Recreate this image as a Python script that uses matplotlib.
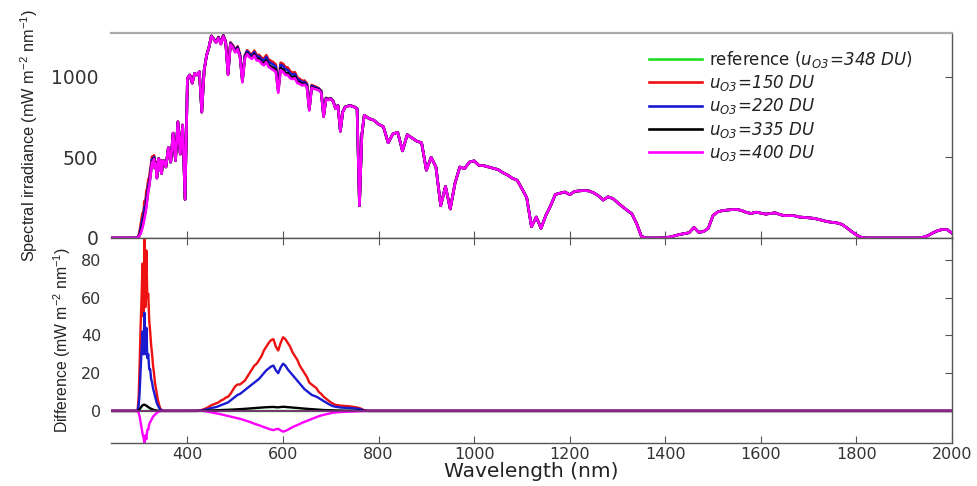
import numpy as np
import matplotlib
matplotlib.use("Agg")
import matplotlib.pyplot as plt

# ---------------- data ----------------
# wavelength sampling grid (nm)
wl = np.concatenate([[240, 280], np.arange(290, 351, 2), np.arange(355, 416, 5),
                     np.arange(420, 781, 5), np.arange(790, 2001, 10)]).astype(float)

# spectral irradiance for u_O3 = 400 DU (mW m-2 nm-1)
irr400_start = [0, 0]
irr400_uv = [0, 0, 1, 3, 8, 15, 28, 45, 65, 90, 120, 150, 190, 240, 290, 320, 370, 420,
             470, 440, 490, 430, 460, 370, 450, 490, 420, 480, 400, 470, 480]
irr400_nuv = [440, 560, 470, 650, 480, 720, 520, 700, 240, 990, 1010, 960, 1020]
irr400_vis = [1010, 1030, 780, 1040, 1130, 1180, 1250, 1230, 1210, 1240,
              1200, 1250, 1210, 1010, 1200, 1180, 1150, 1170, 1120, 965,
              1110, 1140, 1120, 1110, 1130, 1100, 1100, 1080, 1070, 1090,
              1060, 1050, 1040, 1030, 900, 1040, 1030, 1010, 1010, 990,
              985, 990, 960, 955, 945, 950, 935, 790, 930, 925,
              920, 915, 900, 750, 860, 855, 860, 845, 800, 820,
              660, 780, 810, 815, 820, 815, 810, 800, 200, 640,
              760, 750, 740]
irr400_nir = [730, 705, 690, 590, 645, 655, 540, 640, 620, 600,
              590, 420, 500, 440, 200, 320, 180, 340, 440, 430,
              470, 478, 450, 448, 440, 432, 424, 405, 390, 370,
              358, 306, 250, 70, 130, 60, 140, 200, 270, 278,
              285, 268, 288, 292, 294, 292, 280, 262, 235, 255,
              245, 220, 195, 172, 150, 90, 10, 0, 0, 0,
              0, 2, 6, 14, 22, 27, 33, 66, 35, 40,
              60, 140, 162, 170, 173, 176, 177, 170, 158, 152,
              160, 154, 148, 152, 156, 145, 138, 139, 138, 130,
              128, 125, 122, 116, 108, 101, 97, 93, 84, 63,
              40, 19, 4, 0, 0, 0, 0, 0, 0, 0,
              0, 0, 0, 0, 0, 5, 15, 32, 45, 53,
              52, 30]
irr_400 = np.array(irr400_start + irr400_uv + irr400_nuv + irr400_vis + irr400_nir, float)

# differences to the reference (348 DU): UV band (290-350 nm, 2 nm) and visible band (420-780 nm, 5 nm)
wl_uv = np.arange(290, 351, 2).astype(float)
wl_vis = np.arange(420, 781, 5).astype(float)

d150_uv = [0, 0, 0, 1, 8, 25, 45, 60, 78, 50, 92, 55, 85, 60, 62, 48, 42, 35, 30, 24, 20, 15,
           12, 9, 6, 4, 2, 1, 0.5, 0, 0]
d220_uv = [0, 0, 0, 0.5, 3, 10, 22, 32, 42, 30, 52, 30, 44, 28, 30, 22, 22, 17, 15, 12, 10, 8,
           6, 4, 3, 2, 1, 0.5, 0.2, 0, 0]
d335_uv = [0, 0, 0, 0, 0.3, 1, 1.8, 2.5, 3, 3.2, 3.3, 3, 2.8, 2.4, 2, 1.7, 1.4, 1.1, 0.9, 0.7,
           0.5, 0.4, 0.3, 0.2, 0.1, 0, 0, 0, 0, 0, 0]
d400_uv = [0, 0, 0, -0.3, -1, -3, -6, -9, -12, -14, -17, -13, -15, -10, -10, -7, -6, -5, -4, -3,
           -2.5, -2, -1.5, -1, -0.6, -0.4, -0.2, -0.1, 0, 0, 0]

d150_vis = [0, 0.2, 0.5, 1, 1.5, 2.2, 3, 3.5, 4, 4.5, 5.5, 6, 7, 7.5, 9, 11, 13, 14, 14, 15,
            16, 18, 20, 22, 24, 25, 27, 29, 32, 34, 36, 37.5, 38, 34, 32, 36, 39, 38, 36, 34,
            31, 29, 27, 24, 22, 20, 18, 15, 14, 13, 12, 10, 9, 7.5, 6.5, 5.5, 4.5, 3.8, 3.2, 3,
            2.8, 2.7, 2.6, 2.5, 2.4, 2.2, 2, 1.8, 1.5, 1, 0.3, 0.1, 0]
d220_vis = [0, 0.1, 0.3, 0.5, 0.8, 1.1, 1.5, 1.8, 2, 2.5, 3, 3.5, 4, 4.5, 5.5, 6.5, 7.5, 8.5, 9, 10,
            11, 12, 13, 14, 15, 16, 17, 18.5, 20, 21.5, 22.5, 23.5, 24, 21.5, 20, 23, 25, 24, 22, 20.5,
            19, 17.5, 16, 14.5, 13, 11.5, 10.5, 9.5, 8.5, 8, 7.5, 6.8, 6, 5.2, 4.5, 3.7, 3, 2.5, 2.2, 2,
            1.8, 1.7, 1.6, 1.55, 1.5, 1.4, 1.3, 1.2, 1.0, 0.6, 0.2, 0.1, 0]
d335_vis = [0, 0, 0, 0.05, 0.1, 0.15, 0.2, 0.25, 0.3, 0.35, 0.4, 0.45, 0.5, 0.55, 0.6, 0.7, 0.8, 0.85, 0.9, 1.0,
            1.1, 1.2, 1.3, 1.4, 1.5, 1.6, 1.7, 1.8, 1.9, 1.95, 2.0, 2.05, 2.1, 1.95, 1.9, 2.05, 2.2, 2.1, 2.0, 1.9,
            1.8, 1.7, 1.6, 1.45, 1.3, 1.2, 1.1, 1.0, 0.9, 0.8, 0.7, 0.6, 0.5, 0.45, 0.4, 0.35, 0.3, 0.25, 0.2, 0.2,
            0.2, 0.15, 0.1, 0.1, 0.1, 0.1, 0.1, 0.1, 0.1, 0.05, 0, 0, 0]
d400_vis = [0, 0, 0, -0.1, -0.3, -0.5, -0.8, -1, -1.3, -1.5, -1.8, -2.1, -2.4, -2.7, -3, -3.3, -3.6, -3.9, -4.2, -4.6,
            -5, -5.4, -5.8, -6.3, -6.8, -7.2, -7.6, -8.1, -8.6, -9, -9.5, -9.9, -10.2, -9.7, -9.5, -10.3, -11, -10.6, -10, -9.3,
            -8.6, -8, -7.5, -6.9, -6.3, -5.8, -5.3, -4.8, -4.3, -3.8, -3.3, -2.8, -2.4, -2.1, -1.8, -1.5, -1.2, -1, -0.8, -0.7,
            -0.6, -0.55, -0.5, -0.45, -0.4, -0.35, -0.3, -0.25, -0.2, -0.15, -0.1, -0.05, 0]

ozone = [348, 150, 220, 335, 400]
colors = ["#22dd22", "#ee1111", "#1a1ad0", "#000000", "#ff00ff"]
x_ticks = [400, 600, 800, 1000, 1200, 1400, 1600, 1800, 2000]
y_ticks_top = [0, 500, 1000]
y_ticks_bottom = [0, 20, 40, 60, 80]

# ---------------- derived series ----------------
i_uv = np.searchsorted(wl, wl_uv)
i_vis = np.searchsorted(wl, wl_vis)


def on_grid(d_uv, d_vis):
    out = np.zeros_like(wl)
    out[i_uv] = d_uv
    out[i_vis] = d_vis
    return out


diffs = [np.zeros_like(wl),
         on_grid(d150_uv, d150_vis),
         on_grid(d220_uv, d220_vis),
         on_grid(d335_uv, d335_vis),
         on_grid(d400_uv, d400_vis)]
irr_ref = irr_400 - diffs[4]
spectra = [irr_ref + d for d in diffs]

# ---------------- style ----------------
plt.rcParams["font.family"] = ["DejaVu Sans"]
plt.rcParams["mathtext.fontset"] = "custom"
plt.rcParams["mathtext.rm"] = "DejaVu Sans:italic"
plt.rcParams["mathtext.it"] = "DejaVu Sans:italic"
plt.rcParams["mathtext.sf"] = "Liberation Sans"

fig = plt.figure(figsize=(9.77, 4.86), dpi=100)
L, R = 0.1136, 0.9744
ax1 = fig.add_axes([L, 0.5103, R - L, 0.932 - 0.5103])
ax2 = fig.add_axes([L, 0.0885, R - L, 0.5103 - 0.0885], sharex=ax1)

for k in range(5):
    if k == 0:
        lab = r"reference ($u_{O3}\!=\!348\ DU$)"
    else:
        lab = r"$u_{O3}\!=\!%d\ DU$" % ozone[k]
    ax1.plot(wl, spectra[k], color=colors[k], lw=1.9, label=lab)
    ax2.plot(wl, diffs[k], color=colors[k], lw=1.7)
ax2.axhline(0, color="#7a2a7a", lw=1.3, zorder=2.6)

ax1.set_xlim(240, 2000)
ax1.set_ylim(0, 1270)
ax1.set_yticks(y_ticks_top)
ax2.set_ylim(-17, 91.6)
ax2.set_yticks(y_ticks_bottom)
ax2.set_xticks(x_ticks)

spine_col = "#555555"
for ax in (ax1, ax2):
    ax.spines["left"].set_visible(False)
    for s in ("right", "bottom", "top"):
        ax.spines[s].set_color(spine_col)
        ax.spines[s].set_linewidth(1.0)
    ax.tick_params(axis="both", direction="in", length=5, width=0.8, color=spine_col,
                   labelcolor="#333333")
    ax.tick_params(axis="y", left=False, right=True, labelleft=True)
    ax.tick_params(axis="x", top=True, bottom=True)
ax1.spines["top"].set_color("#aaaaaa")
ax1.spines["top"].set_linewidth(1.6)
ax1.tick_params(axis="x", top=False, labelbottom=False)
ax1.tick_params(axis="y", labelsize=13.5, pad=9)
ax2.tick_params(axis="y", labelsize=11.5, pad=7)
ax2.tick_params(axis="x", labelsize=11.5, pad=3)

ax1.set_ylabel(r"Spectral irradiance (mW m$^{\mathsf{-2}}$ nm$^{\mathsf{-1}}$)",
               family="Liberation Sans", fontsize=11.7, color="#222222")
ax2.set_ylabel(r"Difference (mW m$^{\mathsf{-2}}$ nm$^{\mathsf{-1}}$)",
               family="Liberation Sans", fontsize=11.3, color="#222222")
ax2.set_xlabel("Wavelength (nm)", fontsize=14.5, color="#222222", labelpad=0)
ax1.yaxis.set_label_coords(-0.085, 0.5)
ax2.yaxis.set_label_coords(-0.045, 0.5)

leg = ax1.legend(loc="upper left", bbox_to_anchor=(0.626, 0.98), frameon=False,
                 fontsize=12, handlelength=3.2, handletextpad=0.4, labelspacing=0.2,
                 borderpad=0.2)
for t in leg.get_texts():
    t.set_color("#222222")

fig.savefig("out.png", dpi=100)
